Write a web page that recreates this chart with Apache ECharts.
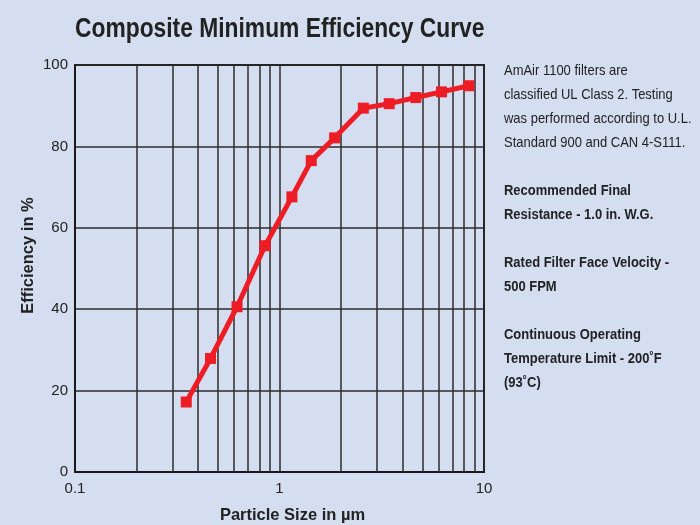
<!DOCTYPE html>
<html>
<head>
<meta charset="utf-8">
<script src="https://cdn.jsdelivr.net/npm/echarts@6/dist/echarts.min.js"></script>
<style>
  html, body { margin: 0; padding: 0; background: #d5def0; }
  #chart { width: 700px; height: 525px; }
</style>
</head>
<body>
<div id="chart"></div>
<script>
const particleSizes = [0.35, 0.46, 0.62, 0.85, 1.15, 1.43, 1.86, 2.57, 3.44, 4.64, 6.2, 8.43]
const efficiency = [17.2, 27.9, 40.6, 55.6, 67.6, 76.5, 82.1, 89.4, 90.5, 92.0, 93.4, 94.9]
const minorGridSizes = [0.2, 0.3, 0.4, 0.5, 0.6, 0.7, 0.8, 0.9, 2, 3, 4, 5, 6, 7, 8, 9]
const yTicks = [0, 20, 40, 60, 80, 100]

const notes = [
  ['AmAir 1100 filters are', 'n'],
  ['classified UL Class 2. Testing', 'n'],
  ['was performed according to U.L.', 'n'],
  ['Standard 900 and CAN 4-S111.', 'n'],
  ['', 'n'],
  ['Recommended Final', 'b'],
  ['Resistance - 1.0 in. W.G.', 'b'],
  ['', 'n'],
  ['Rated Filter Face Velocity -', 'b'],
  ['500 FPM', 'b'],
  ['', 'n'],
  ['Continuous Operating', 'b'],
  ['Temperature Limit - 200˚F', 'b'],
  ['(93˚C)', 'b']
]

const sans = '"Liberation Sans", Arial, sans-serif'
const gridColor = '#2b2b2b'
const textColor = '#222'

const chart = echarts.init(document.getElementById('chart'))

chart.setOption({
  backgroundColor: '#d5def0',
  animation: false,
  grid: {
    left: 75, right: 216, top: 65, bottom: 53,
    outerBoundsMode: 'none',
    containLabel: false,
    show: true, borderColor: '#1a1a1a', borderWidth: 2, backgroundColor: 'transparent'
  },
  xAxis: {
    type: 'log',
    logBase: 10,
    min: 0.1,
    max: 10,
    name: 'Particle Size in µm',
    nameLocation: 'middle',
    nameGap: 35,
    nameTextStyle: { fontFamily: sans, fontSize: 16.5, fontWeight: 'bold', color: textColor, padding: [0, 0, 0, 26] },
    axisLine: { show: true, lineStyle: { color: '#1a1a1a', width: 2 } },
    axisTick: { show: false },
    axisLabel: {
      color: textColor, fontSize: 15, fontFamily: sans, margin: 9,
      formatter: (v) => String(Number(v.toPrecision(2)))
    },
    splitLine: { show: true, lineStyle: { color: gridColor, width: 1.5 } }
  },
  yAxis: {
    type: 'value',
    min: 0,
    max: 100,
    interval: 20,
    name: 'Efficiency in %',
    nameLocation: 'middle',
    nameGap: 38,
    nameMoveOverlap: false,
    nameTextStyle: { fontFamily: sans, fontSize: 16.5, fontWeight: 'bold', color: textColor, padding: [0, 0, 0, 26] },
    axisLine: { show: true, lineStyle: { color: '#1a1a1a', width: 2 } },
    axisTick: { show: false },
    axisLabel: {
      color: textColor, fontSize: 15, fontFamily: sans, margin: 7,
      formatter: (v) => (yTicks.includes(v) ? String(v) : '')
    },
    splitLine: { show: true, lineStyle: { color: gridColor, width: 1.5 } }
  },
  graphic: [
    {
      type: 'text',
      x: 75,
      y: 16,
      scaleX: 0.845,
      style: {
        text: 'Composite Minimum Efficiency Curve',
        fontFamily: sans, fontSize: 27, fontWeight: 'bold', fill: textColor
      }
    },
    {
      type: 'text',
      x: 504,
      y: 59,
      scaleX: 0.895,
      style: {
        text: notes.map(([t, w]) => (t ? `{${w}|${t}}` : '{n| }')).join('\n'),
        rich: {
          n: { fontFamily: sans, fontSize: 14.5, fill: textColor, lineHeight: 24 },
          b: { fontFamily: sans, fontSize: 14.5, fontWeight: 'bold', fill: textColor, lineHeight: 24 }
        }
      }
    }
  ],
  series: [
    {
      type: 'line',
      data: [],
      z: 1,
      silent: true,
      markLine: {
        silent: true,
        symbol: 'none',
        label: { show: false },
        lineStyle: { type: 'solid', color: gridColor, width: 1.5 },
        data: minorGridSizes.map((v) => ({ xAxis: v }))
      }
    },
    {
      type: 'line',
      z: 5,
      data: particleSizes.map((x, i) => [x, efficiency[i]]),
      symbol: 'rect',
      symbolSize: 11,
      lineStyle: { color: '#ee1c25', width: 5 },
      itemStyle: { color: '#ee1c25' }
    }
  ]
})
</script>
</body>
</html>
